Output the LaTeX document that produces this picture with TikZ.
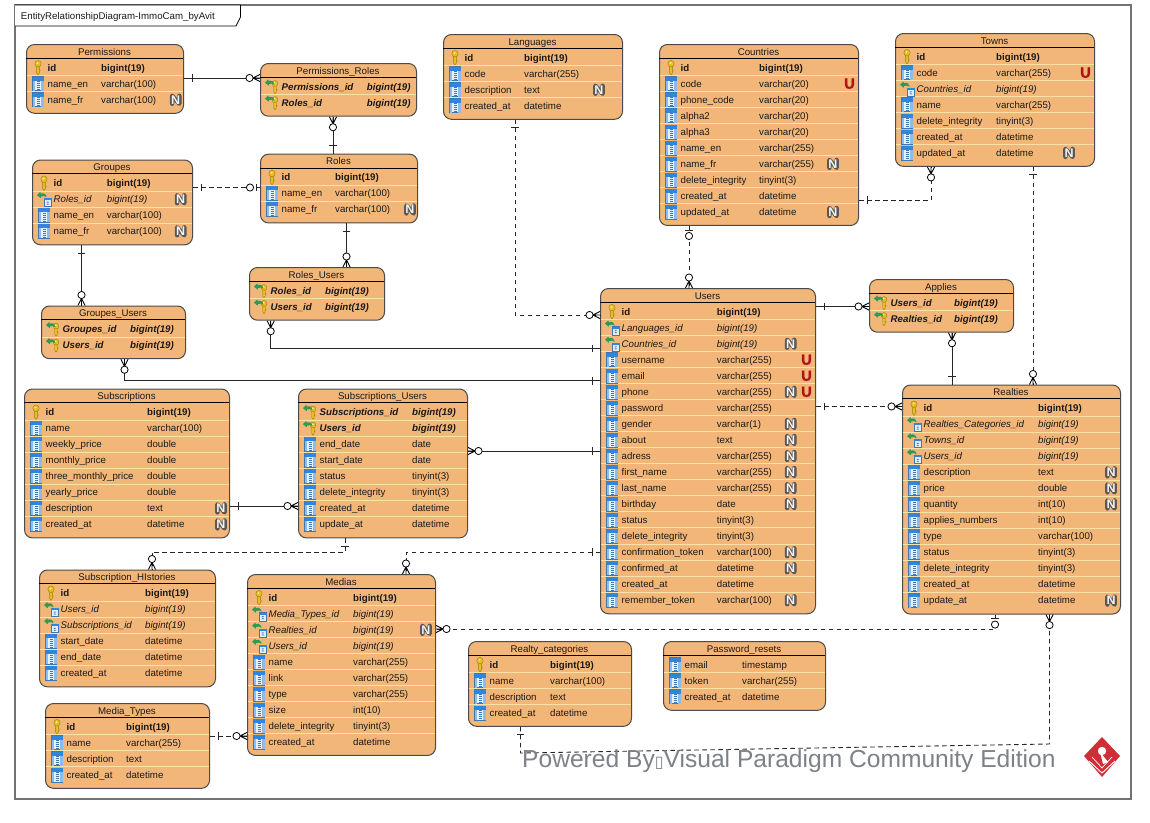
\documentclass[tikz,border=0pt]{standalone}
\usepackage{fontspec}
\setmainfont{Liberation Sans}
\newfontfamily\ufont[FakeBold=2.5]{Liberation Sans}
\newfontfamily\boxfont{DejaVu Sans}
\definecolor{tblfill}{HTML}{F3B679}
\definecolor{tblsep}{HTML}{FBE2A6}
\definecolor{tbledge}{HTML}{4A4A4A}
\definecolor{keygold}{HTML}{E6BE1E}
\definecolor{keyedge}{HTML}{9A7E10}
\definecolor{colblue}{HTML}{2F86DC}
\definecolor{coledge}{HTML}{3F78AE}
\definecolor{fkgreen}{HTML}{2F9A55}
\definecolor{badgeedge}{HTML}{585858}
\definecolor{badgelight}{HTML}{F2F2F2}
\definecolor{uniquered}{HTML}{B01418}
\definecolor{wmgrey}{HTML}{7C8288}
\definecolor{logored}{HTML}{CF2E36}
\catcode`\_=12
\tikzset{
  entitybox/.style={draw=tbledge,fill=tblfill,line width=1pt,rounded corners=8pt,inner sep=0pt},
  celltxt/.style={inner sep=0pt,font=\fontsize{9.7}{11}\selectfont,text=black!90},
  rel/.style={draw=black!85,line width=0.9pt},
  reld/.style={rel,dash pattern=on 4.5pt off 3.5pt},
  rone/.pic={\draw[solid,black!85,line width=0.9pt] (-8,-3.8)--(-8,3.8);},
  rzone/.pic={\draw[solid,black!85,line width=0.9pt] (-4,-3.8)--(-4,3.8);
              \draw[solid,black,line width=0.8pt,fill=white] (-10,0) circle (3.6);},
  rmany/.pic={\draw[solid,black,line width=0.9pt] (-7,0)--(0,-3.6) (-7,0)--(0,3.6) (-7,0)--(0,0);
              \draw[solid,black,line width=0.8pt,fill=white] (-10.5,0) circle (3.6);},
  keyshape/.pic={\fill[keygold,draw=keyedge,line width=0.4pt] (-1.4,-2)--(-1.4,5.5)--(0,7.2)--(1.4,5.5)--(1.4,3.6)--(2.4,3.0)--(1.4,2.2)--(1.4,-2)--cycle;
              \fill[keygold,draw=keyedge,line width=0.4pt] (0,-4) ellipse (3.2 and 3.3);
              \fill[white!70!keygold] (-0.4,-4.6) circle (1);},
  arrowshape/.pic={\fill[fkgreen] (-7,-4) -- (-3.6,-7.4) -- (-3.4,-5.6) .. controls (0,-6.8) and (2,-5) .. (2.6,-2) .. controls (1,-3.6) and (-1,-3.4) .. (-3.2,-2.6) -- (-3.2,-1) -- cycle;},
  iconk/.pic={\path (0,0) pic{keyshape};},
  iconc/.pic={\fill[white!88!colblue,draw=coledge,line width=0.6pt] (-5.5,-7) rectangle (5.5,7);
              \fill[colblue] (-5.5,-7) rectangle (5.5,-3.2);
              \fill[white!45!colblue] (-5.5,-3.2) rectangle (-3.4,7);
              \fill[white!45!colblue] (3.4,-3.2) rectangle (5.5,7);
              \foreach \q in {-2,0,2,4,6} {\fill[coledge] (-1.5,\q-0.5) rectangle (1.5,\q+0.5);}},
  iconp/.pic={\path (3,0.4) pic[scale=0.9]{keyshape}; \path (0,0) pic{arrowshape};},
  iconf/.pic={\fill[white!85!colblue,draw=coledge,line width=0.5pt] (-0.2,-1) rectangle (7.6,7.4);
              \fill[colblue] (-0.2,-1) rectangle (7.6,1);
              \fill[coledge] (2.8,2.5) rectangle (4.6,3.5) (2.8,4.5) rectangle (4.6,5.5);
              \path (0,0) pic{arrowshape};},
}
\newcount\Ec
\newcount\Enr
\newcommand{\entity}[8]{%
  \gdef\En{#1}\gdef\Ex{#2}\gdef\Exr{#3}\gdef\Ey{#4}\gdef\Ext{#6}\gdef\ExN{#7}%
  \global\Ec=-1 \global\Enr=#5\relax
  \pgfmathsetmacro{\Eh}{23.7+16.03*(#5-1)+13}%
  \node[entitybox,minimum width={#3-#2},minimum height=\Eh,anchor=north west] (#1) at (#2,#4) {};
  \draw[black,line width=1pt] (#2,#4+14.3) -- (#3,#4+14.3);
  \node[celltxt,anchor=base] (#1-t) at ({(#2+#3)/2},#4+11) {#8};
}
\newcommand{\Rfontk}{\bfseries}
\newcommand{\Rfontp}{\bfseries\itshape}
\newcommand{\Rfontf}{\itshape}
\newcommand{\Rfontc}{}
\newcommand{\Rw}[3]{%
  \global\advance\Ec by 1\relax
  \pgfmathsetmacro{\yc}{\Ey+23.7+16.03*\the\Ec}%
  \Erule
  \path (\Ex+12,\yc) pic{icon#1};
  \node[celltxt,anchor=base west] (\En-a\the\Ec) at (\Ex+21.5,\yc+3.4) {\csname Rfont#1\endcsname #2};
  \node[celltxt,anchor=base west] (\En-b\the\Ec) at (\Ext,\yc+3.4) {\csname Rfont#1\endcsname #3};
}
\newcount\Etmp
\newcommand{\Erule}{%
  \Etmp=\Ec \advance\Etmp by 1\relax
  \ifnum\Etmp<\Enr
    \draw[tblsep,line width=1pt] (\Ex+0.5,\yc+7.9) -- (\Exr-0.5,\yc+7.9);
  \fi
}
\newcommand{\Nf}{%
  \draw[badgeedge,line width=4.4pt,miter limit=2,line join=round,line cap=round] (\ExN-3.6,\yc+4.0)--(\ExN-3.6,\yc-4.0)--(\ExN+3.6,\yc+4.0)--(\ExN+3.6,\yc-4.0);
  \node[inner sep=0pt,font=\fontsize{12.5}{12}\selectfont\bfseries,text=badgelight] (\En-n\the\Ec) at (\ExN,\yc) {N};
}
\newcommand{\Uf}{%
  \node[inner sep=0pt,font=\fontsize{14.5}{14}\selectfont\ufont\bfseries,text=uniquered] (\En-u\the\Ec) at (\Exr-8.5,\yc) {U};
}
\begin{document}
\begin{tikzpicture}[x=1pt,y=-1pt]
\useasboundingbox (0,0) rectangle (1150,822);
\fill[white] (0,0) rectangle (1150,822);
\draw[black!55,line width=1.4pt] (15,5) rectangle (1131,799);
\draw[black,line width=0.8pt,fill=white] (15,26) -- (236,26) -- (240.5,17) -- (240.5,5) -- (15,5);
\node[celltxt,anchor=base west] (frametitle) at (20.7,19.6) {EntityRelationshipDiagram-ImmoCam_byAvit};

\entity{perm}{26}{183}{44}{3}{101}{175.7}{Permissions}
\Rw{k}{id}{bigint(19)}
\Rw{c}{name_en}{varchar(100)}
\Rw{c}{name_fr}{varchar(100)}\Nf

\entity{pr}{260}{416}{63}{2}{366.7}{400}{Permissions_Roles}
\Rw{p}{Permissions_id}{bigint(19)}
\Rw{p}{Roles_id}{bigint(19)}

\entity{grp}{32}{192}{159.5}{4}{106.7}{180.7}{Groupes}
\Rw{k}{id}{bigint(19)}
\Rw{f}{Roles_id}{bigint(19)}\Nf
\Rw{c}{name_en}{varchar(100)}
\Rw{c}{name_fr}{varchar(100)}\Nf

\entity{roles}{260}{417}{153.7}{3}{335}{410}{Roles}
\Rw{k}{id}{bigint(19)}
\Rw{c}{name_en}{varchar(100)}
\Rw{c}{name_fr}{varchar(100)}\Nf

\entity{ru}{249}{384}{267}{2}{325}{370}{Roles_Users}
\Rw{p}{Roles_id}{bigint(19)}
\Rw{p}{Users_id}{bigint(19)}

\entity{gu}{41}{185}{305.5}{2}{130}{170}{Groupes_Users}
\Rw{p}{Groupes_id}{bigint(19)}
\Rw{p}{Users_id}{bigint(19)}

\entity{lang}{443}{622}{34}{4}{524}{599}{Languages}
\Rw{k}{id}{bigint(19)}
\Rw{c}{code}{varchar(255)}
\Rw{c}{description}{text}\Nf
\Rw{c}{created_at}{datetime}

\entity{ctry}{659}{858}{44}{10}{759}{833}{Countries}
\Rw{k}{id}{bigint(19)}
\Rw{c}{code}{varchar(20)}\Uf
\Rw{c}{phone_code}{varchar(20)}
\Rw{c}{alpha2}{varchar(20)}
\Rw{c}{alpha3}{varchar(20)}
\Rw{c}{name_en}{varchar(255)}
\Rw{c}{name_fr}{varchar(255)}\Nf
\Rw{c}{delete_integrity}{tinyint(3)}
\Rw{c}{created_at}{datetime}
\Rw{c}{updated_at}{datetime}\Nf

\entity{towns}{895}{1094}{33}{7}{996}{1069}{Towns}
\Rw{k}{id}{bigint(19)}
\Rw{c}{code}{varchar(255)}\Uf
\Rw{f}{Countries_id}{bigint(19)}
\Rw{c}{name}{varchar(255)}
\Rw{c}{delete_integrity}{tinyint(3)}
\Rw{c}{created_at}{datetime}
\Rw{c}{updated_at}{datetime}\Nf

\entity{users}{600}{815}{288}{19}{716.7}{790.7}{Users}
\Rw{k}{id}{bigint(19)}
\Rw{f}{Languages_id}{bigint(19)}
\Rw{f}{Countries_id}{bigint(19)}\Nf
\Rw{c}{username}{varchar(255)}\Uf
\Rw{c}{email}{varchar(255)}\Uf
\Rw{c}{phone}{varchar(255)}\Nf\Uf
\Rw{c}{password}{varchar(255)}
\Rw{c}{gender}{varchar(1)}\Nf
\Rw{c}{about}{text}\Nf
\Rw{c}{adress}{varchar(255)}\Nf
\Rw{c}{first_name}{varchar(255)}\Nf
\Rw{c}{last_name}{varchar(255)}\Nf
\Rw{c}{birthday}{date}\Nf
\Rw{c}{status}{tinyint(3)}
\Rw{c}{delete_integrity}{tinyint(3)}
\Rw{c}{confirmation_token}{varchar(100)}\Nf
\Rw{c}{confirmed_at}{datetime}\Nf
\Rw{c}{created_at}{datetime}
\Rw{c}{remember_token}{varchar(100)}\Nf

\entity{appl}{869}{1013}{279}{2}{954}{1000}{Applies}
\Rw{p}{Users_id}{bigint(19)}
\Rw{p}{Realties_id}{bigint(19)}

\entity{real}{902}{1120}{384.5}{13}{1038}{1111}{Realties}
\Rw{k}{id}{bigint(19)}
\Rw{f}{Realties_Categories_id}{bigint(19)}
\Rw{f}{Towns_id}{bigint(19)}
\Rw{f}{Users_id}{bigint(19)}
\Rw{c}{description}{text}\Nf
\Rw{c}{price}{double}\Nf
\Rw{c}{quantity}{int(10)}\Nf
\Rw{c}{applies_numbers}{int(10)}
\Rw{c}{type}{varchar(100)}
\Rw{c}{status}{tinyint(3)}
\Rw{c}{delete_integrity}{tinyint(3)}
\Rw{c}{created_at}{datetime}
\Rw{c}{update_at}{datetime}\Nf

\entity{subs}{24}{229}{388.5}{8}{147}{221}{Subscriptions}
\Rw{k}{id}{bigint(19)}
\Rw{c}{name}{varchar(100)}
\Rw{c}{weekly_price}{double}
\Rw{c}{monthly_price}{double}
\Rw{c}{three_monthly_price}{double}
\Rw{c}{yearly_price}{double}
\Rw{c}{description}{text}\Nf
\Rw{c}{created_at}{datetime}\Nf

\entity{su}{298}{467}{388.5}{8}{412}{450}{Subscriptions_Users}
\Rw{p}{Subscriptions_id}{bigint(19)}
\Rw{p}{Users_id}{bigint(19)}
\Rw{c}{end_date}{date}
\Rw{c}{start_date}{date}
\Rw{c}{status}{tinyint(3)}
\Rw{c}{delete_integrity}{tinyint(3)}
\Rw{c}{created_at}{datetime}
\Rw{c}{update_at}{datetime}

\entity{sh}{39}{215}{569.5}{6}{145}{200}{Subscription_HIstories}
\Rw{k}{id}{bigint(19)}
\Rw{f}{Users_id}{bigint(19)}
\Rw{f}{Subscriptions_id}{bigint(19)}
\Rw{c}{start_date}{datetime}
\Rw{c}{end_date}{datetime}
\Rw{c}{created_at}{datetime}

\entity{med}{247}{435}{574}{10}{353}{426}{Medias}
\Rw{k}{id}{bigint(19)}
\Rw{f}{Media_Types_id}{bigint(19)}
\Rw{f}{Realties_id}{bigint(19)}\Nf
\Rw{f}{Users_id}{bigint(19)}
\Rw{c}{name}{varchar(255)}
\Rw{c}{link}{varchar(255)}
\Rw{c}{type}{varchar(255)}
\Rw{c}{size}{int(10)}
\Rw{c}{delete_integrity}{tinyint(3)}
\Rw{c}{created_at}{datetime}

\entity{mt}{45}{209}{703}{4}{126}{195}{Media_Types}
\Rw{k}{id}{bigint(19)}
\Rw{c}{name}{varchar(255)}
\Rw{c}{description}{text}
\Rw{c}{created_at}{datetime}

\entity{rc}{468}{631}{641}{4}{550}{615}{Realty_categories}
\Rw{k}{id}{bigint(19)}
\Rw{c}{name}{varchar(100)}
\Rw{c}{description}{text}
\Rw{c}{created_at}{datetime}

\entity{pw}{663}{825}{641}{3}{742}{810}{Password_resets}
\Rw{c}{email}{timestamp}
\Rw{c}{token}{varchar(255)}
\Rw{c}{created_at}{datetime}

% connectors
\draw[rel] (perm.east |- 0,78) pic[rotate=180]{rone} -- (pr.west |- 0,78) pic{rmany};
\draw[rel] (333,0 |- roles.north) pic[rotate=-90]{rone} -- (333,0 |- pr.south) pic[rotate=90]{rmany};
\draw[reld] (grp.east |- 0,187.5) pic[rotate=180]{rone} -- (roles.west |- 0,187.5) pic{rzone};
\draw[rel] (346.5,0 |- roles.south) pic[rotate=90]{rone} -- (346.5,0 |- ru.north) pic[rotate=-90]{rmany};
\draw[rel] (81.5,0 |- grp.south) pic[rotate=90]{rone} -- (81.5,0 |- gu.north) pic[rotate=-90]{rmany};
\draw[rel] (270.7,0 |- ru.south) pic[rotate=90]{rmany} -- (270.7,348.5) -- (users.west |- 0,348.5) pic{rone};
\draw[rel] (124.5,0 |- gu.south) pic[rotate=90]{rmany} -- (124.5,380.7) -- (users.west |- 0,380.7) pic{rone};
\draw[rel] (su.east |- 0,451) pic[rotate=180]{rmany} -- (users.west |- 0,451) pic{rone};
\draw[reld] (515,0 |- lang.south) pic[rotate=90]{rone} -- (515,315) -- (users.west |- 0,315) pic{rmany};
\draw[reld] (689,0 |- ctry.south) pic[rotate=90]{rzone} -- (689,0 |- users.north) pic[rotate=-90]{rmany};
\draw[reld] (ctry.east |- 0,200) pic[rotate=180]{rone} -- (931,200) -- (931,0 |- towns.south) pic[rotate=90]{rmany};
\draw[reld] (1033,0 |- towns.south) pic[rotate=90]{rone} -- (1033,0 |- real.north) pic[rotate=-90]{rmany};
\draw[rel] (users.east |- 0,306.5) pic[rotate=180]{rone} -- (appl.west |- 0,306.5) pic{rmany};
\draw[rel] (952,0 |- real.north) pic[rotate=-90]{rone} -- (952,0 |- appl.south) pic[rotate=90]{rmany};
\draw[reld] (users.east |- 0,406.5) pic[rotate=180]{rone} -- (real.west |- 0,406.5) pic{rmany};
\draw[rel] (subs.east |- 0,506) pic[rotate=180]{rone} -- (su.west |- 0,506) pic{rmany};
\draw[reld] (345,0 |- su.south) pic[rotate=90]{rone} -- (345,552) -- (152,552) -- (152,0 |- sh.north) pic[rotate=-90]{rmany};
\draw[reld] (users.west |- 0,552) pic{rone} -- (406,552) -- (406,0 |- med.north) pic[rotate=-90]{rmany};
\draw[reld] (mt.east |- 0,736) pic[rotate=180]{rone} -- (med.west |- 0,736) pic{rmany};
\draw[reld] (995,0 |- real.south) pic[rotate=90]{rzone} -- (995,629) -- (med.east |- 0,629) pic[rotate=180]{rmany};
\draw[reld] (520.5,0 |- rc.south) pic[rotate=90]{rone} -- (520.5,753) -- (1049.5,744) -- (1049.5,0 |- real.south) pic[rotate=90]{rmany};

% watermark
\node[inner sep=0pt,anchor=base west,font=\fontsize{24.6}{25}\selectfont,text=wmgrey] (watermark) at (522,767.5) {Powered By{\boxfont\fontsize{16}{16}\selectfont ▯}Visual Paradigm Community Edition};

% logo
\fill[logored] (1102,737) -- (1120,756) -- (1102,777) -- (1084,756) -- cycle;
\fill[white] (1102,751) circle (4.2);
\fill[white] (1100,752) -- (1108,762) -- (1103,764) -- cycle;
\draw[white,line width=0.9pt] (1089,761) -- (1102,773) -- (1115,761);
\draw[white,line width=0.7pt] (1092,757) -- (1102,768) -- (1112,757);
\end{tikzpicture}
\end{document}
